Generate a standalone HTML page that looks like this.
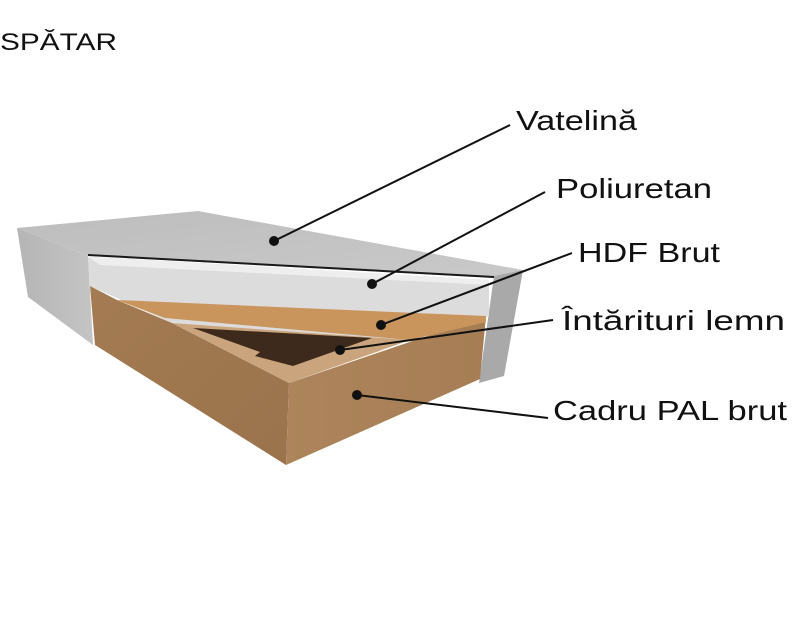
<!DOCTYPE html>
<html><head><meta charset="utf-8"><style>
html,body{margin:0;padding:0;background:#fff;width:800px;height:638px;overflow:hidden}
svg{display:block}
text{font-family:"Liberation Sans","DejaVu Sans",sans-serif;fill:#111}
</style></head><body>
<svg width="800" height="638" viewBox="0 0 800 638">
<defs>
<linearGradient id="top" x1="0" y1="0" x2="1" y2="1"><stop offset="0" stop-color="#bdbdbd"/><stop offset="1" stop-color="#c9c9c9"/></linearGradient>
<linearGradient id="left" x1="0" y1="0" x2="1" y2="0"><stop offset="0" stop-color="#b5b5b5"/><stop offset="1" stop-color="#c4c4c4"/></linearGradient>
<linearGradient id="woodL" x1="0" y1="0" x2="1" y2="1"><stop offset="0" stop-color="#a47b52"/><stop offset="1" stop-color="#9a734c"/></linearGradient>
<linearGradient id="woodR" x1="0" y1="0" x2="1" y2="0"><stop offset="0" stop-color="#ad845b"/><stop offset="1" stop-color="#a67d54"/></linearGradient>
</defs>
<text x="0" y="50" font-size="24" textLength="117" lengthAdjust="spacingAndGlyphs">SPĂTAR</text>
<polygon points="17,228 198,211 523,270 494,278 88,256" fill="url(#top)"/>
<polygon points="17,228 88,256 93,345 28,297" fill="url(#left)"/>
<polygon points="494,276 523,270 504,376 479,383" fill="#a9a9a9"/>
<line x1="88" y1="255" x2="494" y2="277" stroke="#1a1a1a" stroke-width="2"/>
<!-- foam -->
<polygon points="88,257 114,258 489,280 489,316 410,340 172,323 90,286" fill="#dcdcdc"/>
<polygon points="88,257 114,258 489,280 489,285 100,265" fill="#eeeeee"/>
<!-- wood left face -->
<polygon points="90,286 117,300 172,323 289,383 286,465 95,345" fill="url(#woodL)"/>
<polygon points="289,383 486,316 480,379 286,465" fill="url(#woodR)"/>
<!-- inner rim -->
<polygon points="172,323 410,340 289,383" fill="#c9a47c"/>
<polygon points="193,328 372,338 293,366 255,356 260,352" fill="#3e2a1c"/>
<!-- HDF -->
<polygon points="117,300 486,316 486,322 410,340 165,318" fill="#c9955d"/>
<g stroke="#111" stroke-width="2" fill="#111">
<line x1="274" y1="241" x2="510" y2="125"/><circle cx="274" cy="241" r="4"/>
<line x1="372" y1="284" x2="545" y2="192"/><circle cx="372" cy="284" r="4"/>
<line x1="381" y1="325" x2="572" y2="253"/><circle cx="381" cy="325" r="4"/>
<line x1="340" y1="350" x2="553" y2="320"/><circle cx="340" cy="350" r="4"/>
<line x1="357" y1="395" x2="548" y2="418"/><circle cx="357" cy="395" r="4"/>
</g>
<text x="516" y="130" font-size="28" textLength="121" lengthAdjust="spacingAndGlyphs">Vatelină</text>
<text x="556" y="198" font-size="28" textLength="156" lengthAdjust="spacingAndGlyphs">Poliuretan</text>
<text x="578" y="262" font-size="28" textLength="142" lengthAdjust="spacingAndGlyphs">HDF Brut</text>
<text x="562" y="330" font-size="28" textLength="223" lengthAdjust="spacingAndGlyphs">Întărituri lemn</text>
<text x="553" y="420" font-size="28" textLength="234" lengthAdjust="spacingAndGlyphs">Cadru PAL brut</text>
</svg>
</body></html>
